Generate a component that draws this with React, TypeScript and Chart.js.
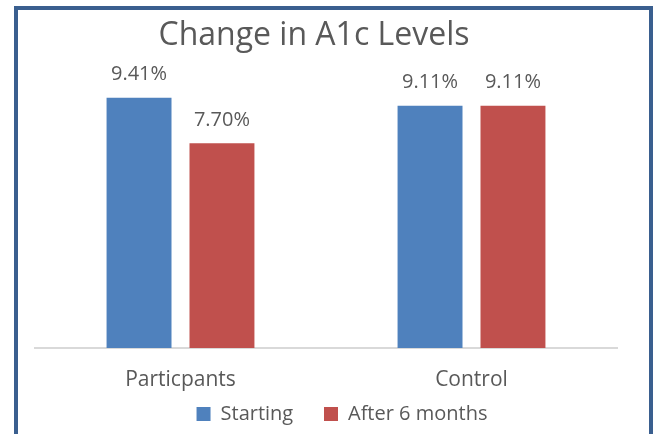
import React, { useEffect, useRef } from "react";
import { Chart, registerables } from "chart.js";

Chart.register(...registerables);

const categories = ["Particpants", "Control"];
const seriesNames = ["Starting", "After 6 months"];
const startingValues = [9.41, 9.11];
const afterValues = [7.7, 9.11];
const titleText = "Change in A1c Levels";

const FONT = "'Open Sans', 'Liberation Sans', sans-serif";
const TEXT = "#595959";

const framePlugin = {
  id: "frame",
  afterDraw(chart: any) {
    const ctx = chart.ctx;
    ctx.save();
    ctx.fillStyle = "#3A5F8F";
    ctx.fillRect(14, 6, 4, chart.height - 6);
    ctx.fillRect(14, 6, chart.width - 14, 4);
    ctx.fillRect(649, 6, 4, chart.height - 6);
    ctx.fillStyle = TEXT;
    ctx.font = `32px ${FONT}`;
    ctx.textAlign = "center";
    ctx.textBaseline = "alphabetic";
    ctx.fillText(titleText, 314, 45);
    ctx.restore();
  },
};

const labelPlugin = {
  id: "barLabels",
  afterDatasetsDraw(chart: any) {
    const ctx = chart.ctx;
    ctx.save();
    ctx.fillStyle = TEXT;
    ctx.font = `20px ${FONT}`;
    ctx.textAlign = "center";
    ctx.textBaseline = "middle";
    chart.data.datasets.forEach((ds: any, di: number) => {
      const meta = chart.getDatasetMeta(di);
      meta.data.forEach((bar: any, i: number) => {
        const v = ds.data[i] as number;
        ctx.fillText(v.toFixed(2) + "%", bar.x, bar.y - 23);
      });
    });
    ctx.restore();
  },
};

export default function App() {
  const ref = useRef<HTMLCanvasElement>(null);
  useEffect(() => {
    if (!ref.current) return;
    const chart = new Chart(ref.current, {
      type: "bar",
      data: {
        labels: categories,
        datasets: [
          {
            label: seriesNames[0],
            data: startingValues,
            backgroundColor: "#4F81BD",
            categoryPercentage: 0.57,
            barPercentage: 0.783,
          },
          {
            label: seriesNames[1],
            data: afterValues,
            backgroundColor: "#C0504D",
            categoryPercentage: 0.57,
            barPercentage: 0.783,
          },
        ],
      },
      options: {
        animation: false,
        responsive: false,
        maintainAspectRatio: false,
        layout: { padding: { left: 35, right: 4, top: 82, bottom: 0 } },
        plugins: {
          title: { display: false },
          tooltip: { enabled: false },
          legend: {
            position: "bottom",
            labels: {
              color: TEXT,
              font: { family: FONT, size: 20 },
              boxWidth: 14,
              boxHeight: 14,
              padding: 10,
              generateLabels(c: any) {
                const items = (Chart.defaults.plugins.legend.labels as any).generateLabels(c);
                items.forEach((it: any, i: number) => {
                  if (i < items.length - 1) it.text = it.text + "\u00A0\u00A0\u00A0\u00A0";
                });
                return items;
              },
            },
          },
        },
        scales: {
          x: {
            grid: { display: false, drawTicks: false },
            border: { display: true, color: "#D9D9D9", width: 2 },
            ticks: { color: TEXT, font: { family: FONT, size: 21 }, padding: 19 },
            afterFit(scale: any) {
              scale.height = 46;
            },
          },
          y: {
            position: "right",
            min: 0,
            max: 10,
            grid: { display: false, drawTicks: false },
            border: { display: false },
            ticks: { display: false },
            afterFit(scale: any) {
              scale.width = 32;
            },
          },
        },
      },
      plugins: [framePlugin, labelPlugin],
    });
    return () => chart.destroy();
  }, []);
  return (
    <div style={{ position: "fixed", left: 0, top: 0, width: 653, height: 434, background: "#fff" }}>
      <canvas ref={ref} width={653} height={434} style={{ display: "block" }} />
    </div>
  );
}
